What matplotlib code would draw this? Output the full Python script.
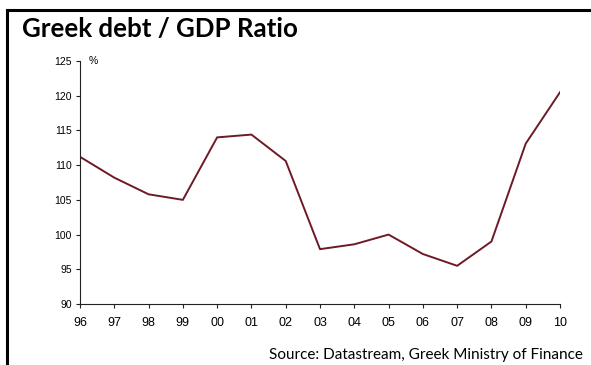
import matplotlib.pyplot as plt
from matplotlib.lines import Line2D

years = ["96", "97", "98", "99", "00", "01", "02", "03", "04", "05", "06", "07", "08", "09", "10"]
debt_ratio = [111.2, 108.2, 105.8, 105.0, 114.0, 114.4, 110.6, 97.9, 98.6, 100.0, 97.2, 95.5, 99.0, 113.1, 120.5]
y_ticks = [90, 95, 100, 105, 110, 115, 120, 125]

LINE_COLOR = "#6d1a26"

fig = plt.figure(figsize=(5.91, 3.65), dpi=100)
ax = fig.add_axes([80 / 591, 1 - 304 / 365, 480 / 591, 243 / 365])

x = list(range(len(years)))
ax.plot(x, debt_ratio, color=LINE_COLOR, lw=1.4)

ax.set_xlim(0, len(years) - 1)
ax.set_ylim(90, 125)
ax.set_xticks(x)
ax.set_xticklabels(years)
ax.set_yticks(y_ticks)

for side in ("top", "right"):
    ax.spines[side].set_visible(False)
for side in ("left", "bottom"):
    ax.spines[side].set_linewidth(0.8)
    ax.spines[side].set_color("#222222")
ax.tick_params(direction="out", length=3, width=0.8, color="#222222")
ax.tick_params(axis="x", labelsize=9, pad=6)
ax.tick_params(axis="y", labelsize=7.5, pad=3)
for lab in ax.get_xticklabels() + ax.get_yticklabels():
    lab.set_fontfamily("Liberation Sans")

ax.text(0.018, 1.0, "%", transform=ax.transAxes, fontsize=7.5,
        fontfamily="Liberation Sans", va="center", ha="left")

# frame lines around the panel
fig.add_artist(Line2D([7 / 591, 1], [1 - 10 / 365, 1 - 10 / 365], color="black", lw=2.2))
fig.add_artist(Line2D([7 / 591, 7 / 591], [0, 1 - 10 / 365], color="black", lw=2.2))

fig.text(22 / 591, 1 - 29 / 365, "Greek debt / GDP Ratio", fontsize=18.6,
         fontweight="bold", fontfamily="Lato", va="center", ha="left")
fig.text(583 / 591, 1 - 355 / 365, "Source: Datastream, Greek Ministry of Finance",
         fontsize=11, fontfamily="Lato", va="center", ha="right")

fig.savefig("out.png", dpi=100)
